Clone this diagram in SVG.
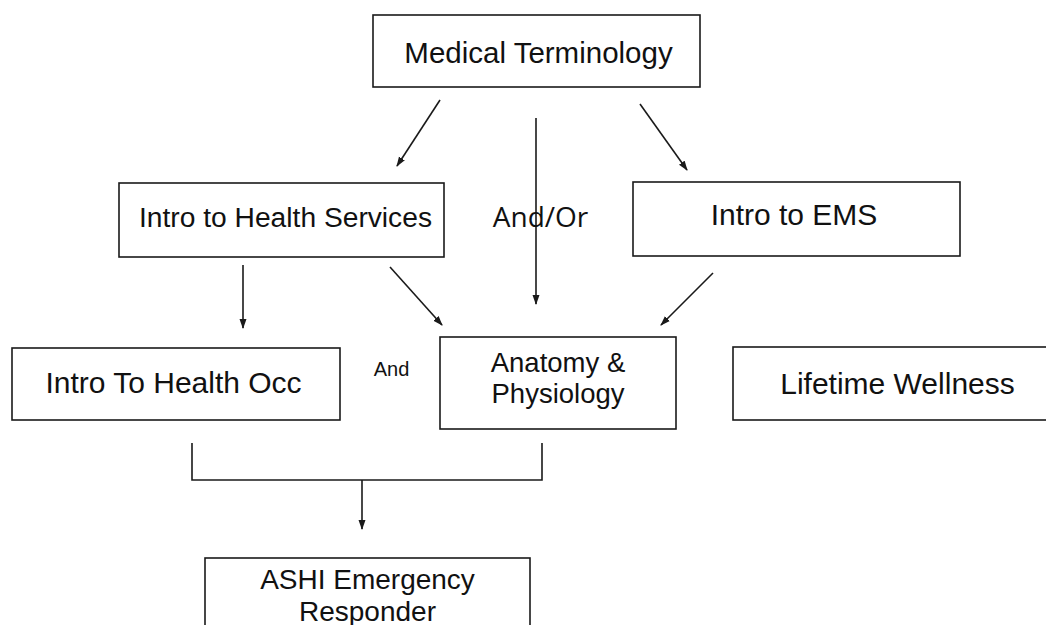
<svg xmlns="http://www.w3.org/2000/svg" width="1046" height="625" viewBox="0 0 1046 625">
  <defs>
    <marker id="ah" markerWidth="10" markerHeight="8" refX="9" refY="4" orient="auto" markerUnits="userSpaceOnUse">
      <path d="M0,0.5 L10,4 L0,7.5 Z" fill="#1a1a1a"/>
    </marker>
  </defs>
  <style>
    .box { fill: #ffffff; stroke: #1a1a1a; stroke-width: 1.6; }
    .lbl { font-family: "Liberation Sans", Arial, sans-serif; fill: #111111; text-anchor: middle; }
    .edge { stroke: #1a1a1a; stroke-width: 1.6; fill: none; }
    .arr { marker-end: url(#ah); }
  </style>
  <rect width="1046" height="625" fill="#ffffff"/>

  <g id="connectors">
    <line class="edge arr" x1="440" y1="100" x2="397" y2="166"/>
    <line class="edge arr" x1="536" y1="118" x2="536" y2="304"/>
    <line class="edge arr" x1="640" y1="104" x2="687" y2="170"/>
    <line class="edge arr" x1="243" y1="265" x2="243" y2="328"/>
    <line class="edge arr" x1="390" y1="267" x2="442" y2="325"/>
    <line class="edge arr" x1="713" y1="273" x2="661" y2="325"/>
    <polyline class="edge" points="192,443 192,480 542,480 542,443"/>
    <line class="edge arr" x1="362" y1="480" x2="362" y2="529"/>
  </g>

  <g id="node-medical-terminology">
    <rect class="box" x="373" y="15" width="327" height="72"/>
    <text class="lbl" x="538.5" y="63" font-size="29.5">Medical Terminology</text>
  </g>

  <g id="node-intro-health-services">
    <rect class="box" x="119" y="183" width="325" height="74"/>
    <text class="lbl" x="285.5" y="227" font-size="28.2">Intro to Health Services</text>
  </g>

  <g id="label-and-or">
    <text class="lbl" x="540.5" y="227" font-size="28" style="font-family:'Open Sans', sans-serif">And/Or</text>
  </g>

  <g id="node-intro-ems">
    <rect class="box" x="633" y="182" width="327" height="74"/>
    <text class="lbl" x="794" y="225" font-size="30">Intro to EMS</text>
  </g>

  <g id="node-intro-health-occ">
    <rect class="box" x="12" y="348" width="328" height="72"/>
    <text class="lbl" x="173.5" y="393" font-size="30">Intro To Health Occ</text>
  </g>

  <g id="label-and">
    <text class="lbl" x="391.5" y="376" font-size="20">And</text>
  </g>

  <g id="node-anatomy-physiology">
    <rect class="box" x="440" y="337" width="236" height="92"/>
    <text class="lbl" x="558" y="372" font-size="27.5">Anatomy &amp;</text>
    <text class="lbl" x="558" y="403" font-size="27.5">Physiology</text>
  </g>

  <g id="node-lifetime-wellness">
    <rect class="box" x="733" y="347" width="330" height="73"/>
    <text class="lbl" x="897.5" y="394" font-size="30">Lifetime Wellness</text>
  </g>

  <g id="node-ashi">
    <rect class="box" x="205" y="558" width="325" height="80"/>
    <text class="lbl" x="367.5" y="589" font-size="28">ASHI Emergency</text>
    <text class="lbl" x="367.5" y="621" font-size="28">Responder</text>
  </g>
</svg>
